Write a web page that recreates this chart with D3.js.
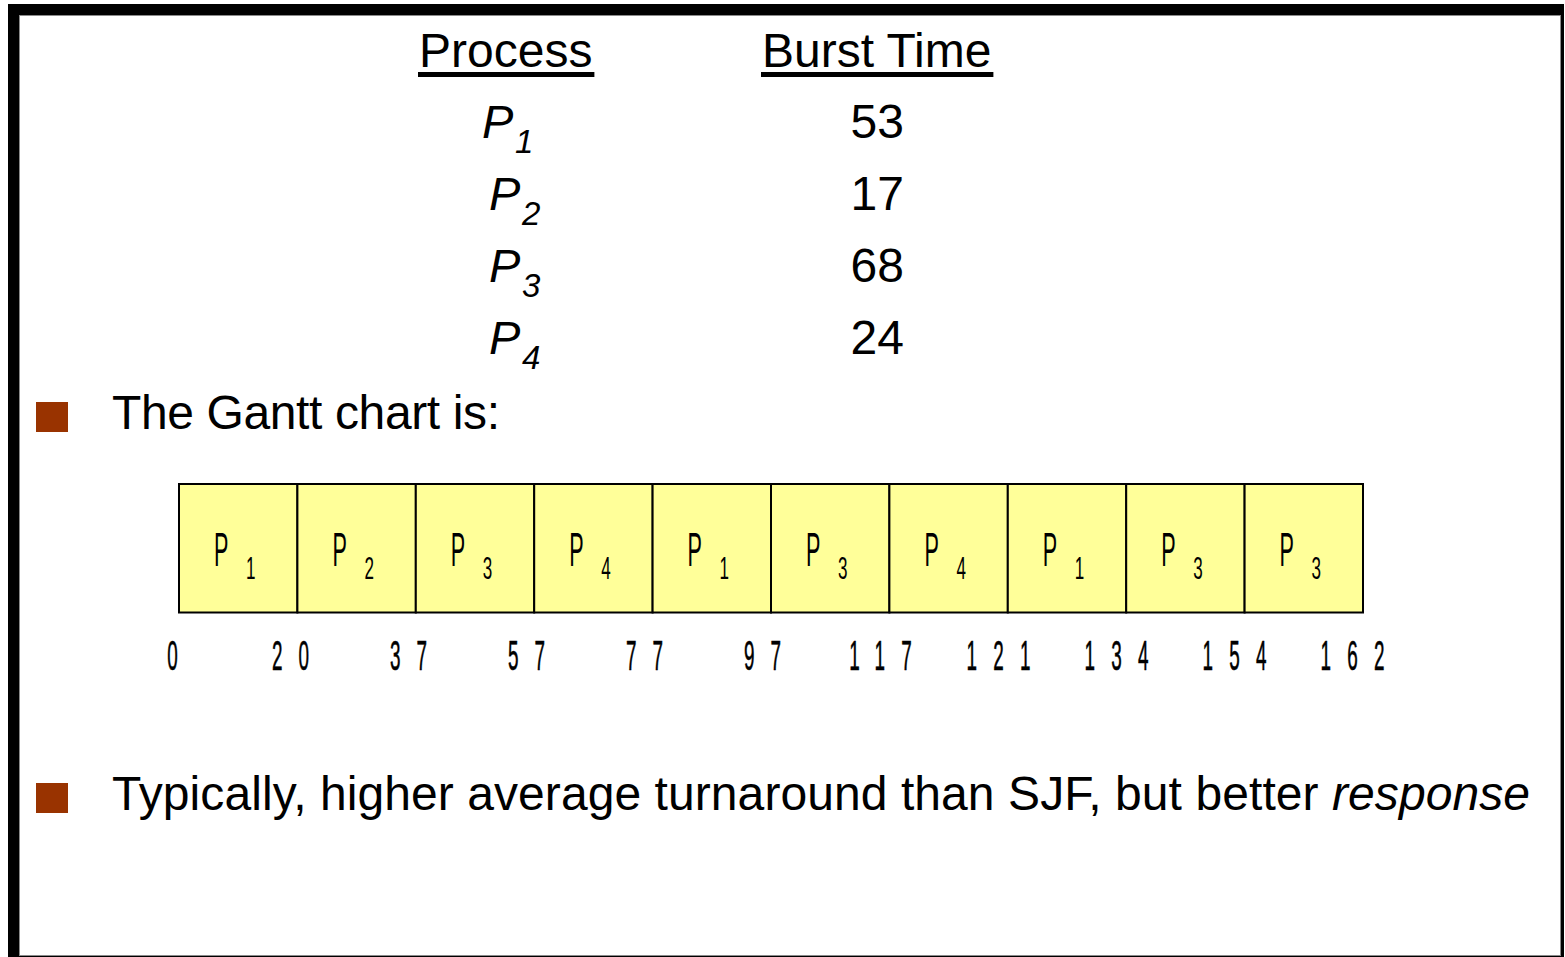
<!DOCTYPE html>
<html><head><meta charset="utf-8">
<script src="https://cdn.jsdelivr.net/npm/d3@7"></script>
<style>html,body{margin:0;padding:0;background:#fff;overflow:hidden}</style>
</head><body><svg id="c" width="1565" height="957"></svg>
<script>
// ---- data ----
const headers = ["Process", "Burst Time"];
const processes = ["1", "2", "3", "4"];
const burstTimes = [53, 17, 68, 24];
const ganttSequence = ["1", "2", "3", "4", "1", "3", "4", "1", "3", "3"];
const ganttTimes = [0, 20, 37, 57, 77, 97, 117, 121, 134, 154, 162];
const bullet1 = ["The Gantt chart is:"];
const bullet2 = ["Typically, higher average turnaround than SJF, but better ", "response"];

const FONT = "'Liberation Sans', Arial, Helvetica, sans-serif";
const svg = d3.select("#c");

// ---- frame ----
svg.append("rect").attr("x", 0).attr("y", 0).attr("width", 1565).attr("height", 957).attr("fill", "#fff");
svg.append("rect").attr("x", 8).attr("y", 4).attr("width", 1556).attr("height", 953).attr("fill", "#000");
svg.append("rect").attr("x", 19.5).attr("y", 15.5).attr("width", 1541).attr("height", 940)
  .attr("fill", "#fff").attr("stroke", "#8a8a8a").attr("stroke-width", 1);

// ---- table ----
const headerX = d3.scalePoint().domain(headers).range([419, 762]);
headers.forEach(h => {
  const t = svg.append("text").attr("x", headerX(h)).attr("y", 67)
    .attr("font-family", FONT).attr("font-size", 48).attr("fill", "#000").text(h);
  const w = t.node().getComputedTextLength();
  svg.append("rect").attr("x", headerX(h) - 1).attr("y", 72).attr("width", w + 3).attr("height", 5).attr("fill", "#000");
});

const rowY = d3.scalePoint().domain(processes).range([138, 354]);
processes.forEach((p, i) => {
  const y = rowY(p);
  const px = i === 0 ? 482 : 489;
  svg.append("text").attr("x", px).attr("y", y)
    .attr("font-family", FONT).attr("font-size", 47).attr("font-style", "italic").text("P");
  svg.append("text").attr("x", px + 33).attr("y", y + 15)
    .attr("font-family", FONT).attr("font-size", 33).attr("font-style", "italic").attr("font-weight", 300).text(p);
  svg.append("text").attr("x", 904).attr("y", y).attr("text-anchor", "end")
    .attr("font-family", FONT).attr("font-size", 48).text(burstTimes[i]);
});

// ---- bullets ----
const bulletY = [429, 810];
const bulletW = [388, 1418];
[bullet1, bullet2].forEach((parts, k) => {
  svg.append("rect").attr("x", 36).attr("y", bulletY[k] - 27).attr("width", 32).attr("height", 30)
    .attr("fill", "#993300");
  const t = svg.append("text").attr("x", 112).attr("y", bulletY[k])
    .attr("font-family", FONT).attr("font-size", 48).attr("fill", "#000")
    .attr("textLength", bulletW[k]).attr("lengthAdjust", "spacing");
  parts.forEach((s, j) => {
    t.append("tspan").attr("font-style", j === 1 ? "italic" : "normal").text(s);
  });
});

// ---- gantt chart ----
const xb = d3.scaleBand().domain(d3.range(ganttSequence.length)).range([179, 1363]).paddingInner(0);
const g = svg.append("g");
g.selectAll("rect.seg").data(ganttSequence).join("rect").attr("class", "seg")
  .attr("x", (d, i) => xb(i)).attr("y", 484).attr("width", xb.bandwidth()).attr("height", 128.5)
  .attr("fill", "#ffff99").attr("stroke", "#000").attr("stroke-width", 2);

g.selectAll("text.p").data(ganttSequence).join("text").attr("class", "p")
  .attr("transform", (d, i) => `translate(${xb(i) + 35},566) scale(0.45,1)`)
  .attr("font-family", FONT).attr("font-size", 48).text("P");
g.selectAll("text.sub").data(ganttSequence).join("text").attr("class", "sub")
  .attr("transform", (d, i) => `translate(${xb(i) + 67},579) scale(0.55,1)`)
  .attr("font-family", FONT).attr("font-size", 31).text(d => d);

const tx = d3.scaleLinear().domain([0, ganttTimes.length - 1]).range([172.5, 1352.5]);
g.selectAll("text.tick").data(ganttTimes).join("text").attr("class", "tick")
  .attr("transform", (d, i) => `translate(${tx(i)},670) scale(0.45,1)`)
  .attr("text-anchor", "middle").attr("dx", 18)
  .attr("font-family", FONT).attr("font-size", 42).attr("letter-spacing", 36)
  .attr("stroke", "#000").attr("stroke-width", 0.6).text(d => d);
</script></body></html>
